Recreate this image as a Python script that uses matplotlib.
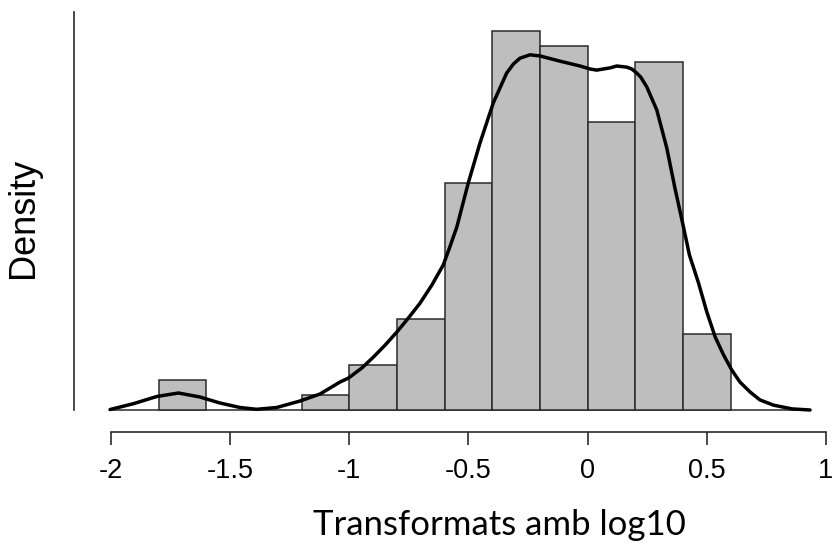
import numpy as np
import matplotlib
matplotlib.use("Agg")
import matplotlib.pyplot as plt

# Histogram: bin edges and counts
bin_edges = [-2.0, -1.8, -1.6, -1.4, -1.2, -1.0, -0.8, -0.6, -0.4, -0.2, 0.0, 0.2, 0.4, 0.6, 0.8, 1.0]
counts = [0, 2, 0, 0, 1, 3, 6, 15, 25, 24, 19, 23, 5, 0, 0]

# Density curve points
curve_x = [-2.004, -1.906, -1.808, -1.717, -1.627, -1.543, -1.459, -1.389, -1.305, -1.207,
           -1.123, -1.039, -1.003, -0.947, -0.899, -0.850, -0.801, -0.752, -0.703, -0.654,
           -0.606, -0.578, -0.549, -0.501, -0.452, -0.424, -0.396, -0.340, -0.312, -0.284,
           -0.242, -0.200, -0.116, -0.032, 0.010, 0.038, 0.066, 0.094, 0.122, 0.164,
           0.185, 0.206, 0.223, 0.248, 0.290, 0.332, 0.366, 0.402, 0.427, 0.465,
           0.500, 0.535, 0.570, 0.605, 0.639, 0.682, 0.723, 0.780, 0.857, 0.933]
curve_y = [0.0013, 0.0169, 0.0362, 0.0456, 0.0349, 0.0188, 0.0067, 0.0019, 0.0067, 0.0241,
           0.0429, 0.0751, 0.0859, 0.113, 0.142, 0.174, 0.209, 0.247, 0.287, 0.335,
           0.389, 0.438, 0.491, 0.609, 0.716, 0.770, 0.824, 0.904, 0.928, 0.944,
           0.953, 0.950, 0.936, 0.923, 0.915, 0.912, 0.915, 0.918, 0.923, 0.920,
           0.915, 0.904, 0.893, 0.867, 0.805, 0.703, 0.596, 0.491, 0.416, 0.341,
           0.263, 0.196, 0.148, 0.107, 0.075, 0.048, 0.027, 0.013, 0.003, 0.0]

x_ticks = [-2, -1.5, -1, -0.5, 0, 0.5, 1]
x_ticklabels = ["-2", "-1.5", "-1", "-0.5", "0", "0.5", "1"]
x_label = "Transformats amb log10"
y_label = "Density"

W, H = 834, 547
fig = plt.figure(figsize=(W / 100, H / 100), dpi=100)
ax = fig.add_axes([60 / W, (H - 445) / H, 774 / W, 440 / H])

edges = np.array(bin_edges)
cnt = np.array(counts, dtype=float)
widths = np.diff(edges)
dens = cnt / (cnt.sum() * widths)
mask = cnt > 0
ax.bar(edges[:-1][mask], dens[mask], width=widths[mask], align="edge",
       color="#bebebe", edgecolor="#2b2b2b", linewidth=1.1, zorder=2)

# baseline under bars
ax.hlines(0, curve_x[0], curve_x[-1], color="#2b2b2b", lw=1.1, zorder=1)

ax.plot(curve_x, curve_y, color="black", lw=2.5, solid_joinstyle="round",
        solid_capstyle="round", zorder=3)

ax.set_xlim(-2.2140, 1.0336)
ax.set_ylim(-0.0939, 1.0867)

for s in ["top", "right"]:
    ax.spines[s].set_visible(False)
ax.spines["bottom"].set_position(("data", -0.0577))
ax.spines["bottom"].set_bounds(-2, 1)
ax.spines["left"].set_position(("data", -2.1552))
ax.spines["left"].set_bounds(0, 1.068)
for s in ["bottom", "left"]:
    ax.spines[s].set_color("#2b2b2b")
    ax.spines[s].set_linewidth(1.2)

ax.set_yticks([])
ax.set_xticks(x_ticks)
ax.set_xticklabels(x_ticklabels, fontsize=19.5, family="Liberation Sans")
ax.tick_params(axis="x", direction="out", length=9, width=1.2, color="#2b2b2b", pad=10)
ax.set_facecolor("none")

fig.text(499 / W, 1 - 535 / H, x_label, ha="center", va="baseline",
         fontsize=25, family="Lato")
fig.text(24 / W, 1 - 218 / H, y_label, ha="center", va="center", rotation=90,
         fontsize=26, family="Liberation Sans")

fig.savefig("out.png", dpi=100)
